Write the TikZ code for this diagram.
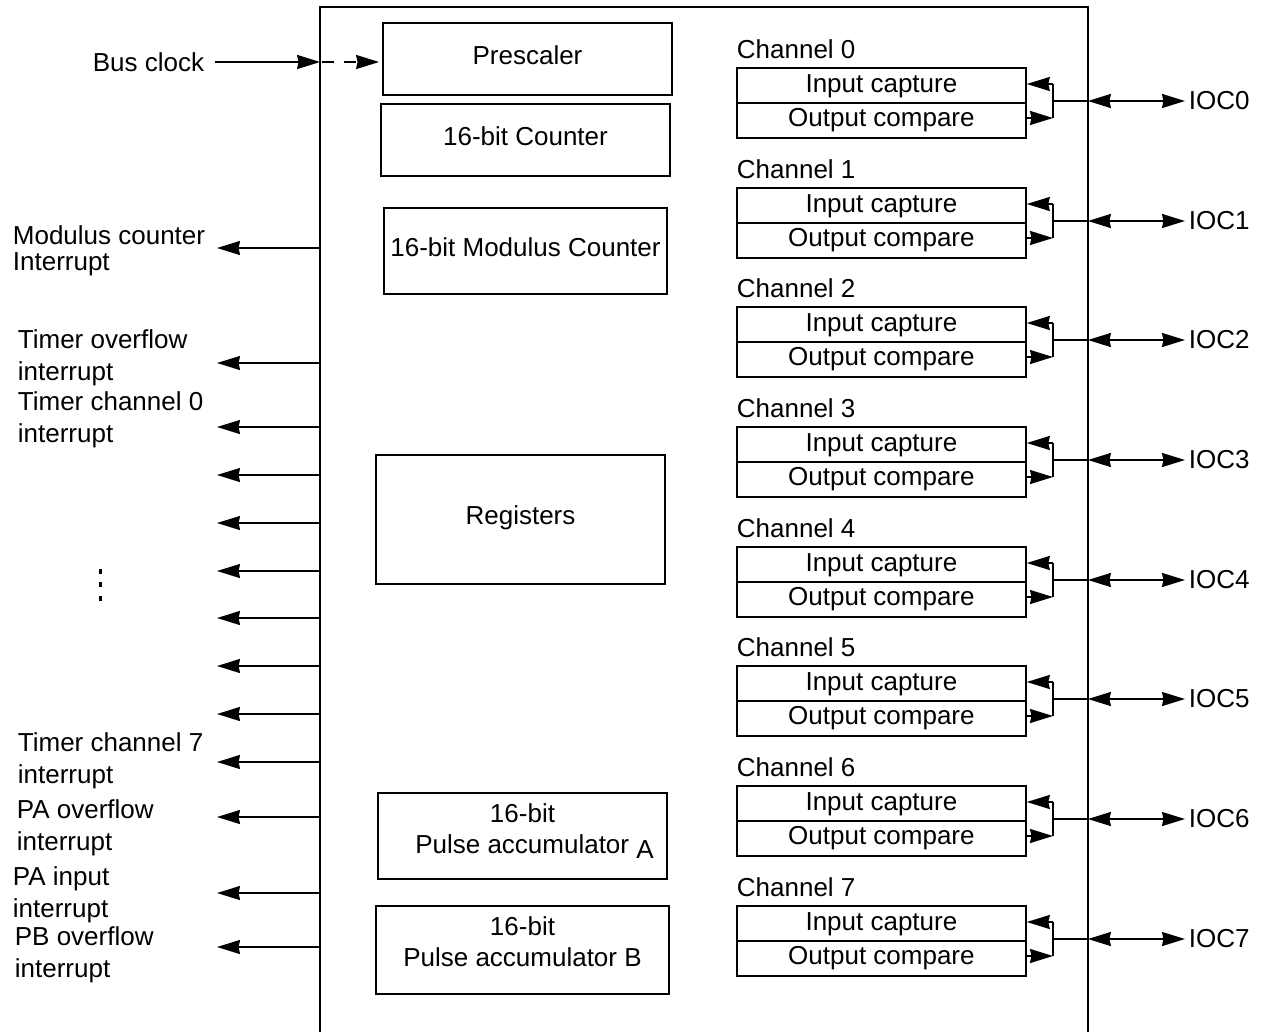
\documentclass[tikz,border=0pt]{standalone}
\usepackage{fontspec}
\setmainfont{Liberation Sans}
\usetikzlibrary{arrows.meta}
\begin{document}
\begin{tikzpicture}[x=1pt,y=-1pt,
  line width=1.8pt,
  font=\fontsize{26}{31}\selectfont,
  tip/.style={-{Stealth[length=23pt,width=14pt,inset=1.5pt]}},
  dtip/.style={{Stealth[length=23pt,width=14pt,inset=1.5pt]}-{Stealth[length=23pt,width=14pt,inset=1.5pt]}},
  blk/.style={draw, inner sep=0pt, align=center},
  oneline/.style={text height=19pt, text depth=9pt},
  chbox/.style={draw, inner sep=0pt, minimum width=289pt, minimum height=35pt, text height=19pt},
  lbl/.style={anchor=base west, inner sep=0pt},
  dotmark/.style={fill=black, draw=none}
]
\useasboundingbox (0,0) rectangle (1263,1031);

% main timer box (open at the bottom)
\node[inner sep=0pt, minimum width=766pt, minimum height=1040pt] (tim) at (704,528) {};
\draw (tim.south west) -- (tim.north west) -- (tim.north east) -- (tim.south east);

% inner blocks
\node[blk, oneline, minimum width=289pt, minimum height=72pt] (pre) at (527.5,59) {Prescaler};
\node[blk, oneline, minimum width=289pt, minimum height=72pt] (cnt) at (525.5,140) {16-bit Counter};
\node[blk, oneline, minimum width=283pt, minimum height=86pt] (mod) at (525.5,251) {16-bit Modulus Counter};
\node[blk, oneline, minimum width=289pt, minimum height=129pt] (reg) at (520.5,519.5) {Registers};
\node[blk, text depth=14pt, minimum width=289pt, minimum height=86pt] (paa) at (522.5,836) {16-bit\\\hspace*{24pt}Pulse accumulator \raisebox{-5pt}{A}};
\node[blk, text depth=17pt, minimum width=293pt, minimum height=88pt] (pab) at (522.5,950) {16-bit\\Pulse accumulator B};

% bus clock
\node[anchor=east, inner sep=0pt] (bus) at (205,62) {Bus clock};
\coordinate (busin) at (tim.west |- bus.east);
\draw[tip, shorten <=10pt] (bus.east) -- (busin);
\draw[tip, dash pattern=on 12pt off 10pt, shorten <=2pt, shorten >=3pt] (busin) -- (pre.west |- busin);

% left interrupt outputs
\foreach \i/\yy in {0/248, 1/363, 2/427, 3/475, 4/523, 5/571, 6/618, 7/666, 8/714, 9/762, 10/817, 11/893, 12/947} {
  \coordinate (out\i) at (217,\yy);
  \draw[tip] (tim.west |- out\i) -- (out\i);
}

% left labels
\node[lbl] (l1a) at (12,244) {Modulus counter};
\node[lbl] (l1b) at (12,270) {Interrupt};
\node[lbl] (l2a) at (17,348) {Timer overflow};
\node[lbl] (l2b) at (17,380) {interrupt};
\node[lbl] (l3a) at (17,410) {Timer channel 0};
\node[lbl] (l3b) at (17,442) {interrupt};
\node[lbl] (l4a) at (17,751) {Timer channel 7};
\node[lbl] (l4b) at (17,783) {interrupt};
\node[lbl] (l5a) at (16,818) {PA overflow};
\node[lbl] (l5b) at (16,850) {interrupt};
\node[lbl] (l6a) at (12,885) {PA input};
\node[lbl] (l6b) at (12,917) {interrupt};
\node[lbl] (l7a) at (14,945) {PB overflow};
\node[lbl] (l7b) at (14,977) {interrupt};

% vertical dots
\foreach \yy in {571,584,598} {
  \fill[dotmark] (98.5,\yy-2.5) rectangle ++(3,5);
}

% channels
\foreach \k in {0,...,7} {
  \pgfmathtruncatemacro\ty{67+119.7*\k+0.5}
  \node[lbl] (chl\k) at (736,\ty-9) {Channel \k};
  \node[chbox, text depth=4pt, anchor=north west] (ic\k) at (736,\ty) {Input capture};
  \node[chbox, text depth=7pt, anchor=north west] (oc\k) at (736,\ty+35) {Output compare};
  \coordinate (bu\k) at (1053,\ty+17);
  \coordinate (bl\k) at (1053,\ty+51);
  \coordinate (bm\k) at (1053,\ty+34);
  \draw[tip] (bu\k) -- (ic\k.east |- bu\k);
  \draw[tip] (oc\k.east |- bl\k) -- (bl\k);
  \draw (bu\k) -- (bl\k);
  \draw (bm\k) -- (tim.east |- bm\k);
  \node[anchor=west, inner sep=0pt] (ioc\k) at (1188,\ty+34) {IOC\k};
  \draw[dtip, shorten >=3pt] (tim.east |- bm\k) -- (ioc\k.west);
}
\end{tikzpicture}
\end{document}
